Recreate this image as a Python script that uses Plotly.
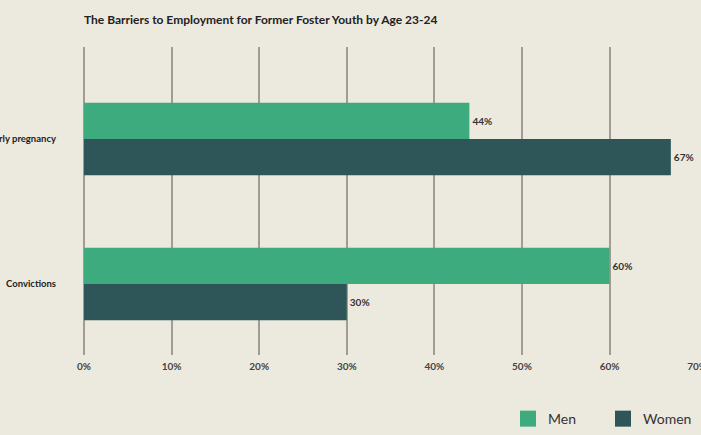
import plotly.graph_objects as go

categories = ["Early pregnancy", "Convictions"]
men = [44, 60]
women = [67, 30]
tick_vals = [0, 10, 20, 30, 40, 50, 60, 70]
tick_text = ["0%", "10%", "20%", "30%", "40%", "50%", "60%", "70%"]
title_text = "The Barriers to Employment for Former Foster Youth by Age 23-24"

MEN_C = "#3dab7e"
WOMEN_C = "#2e5659"
FONT = "Lato"

fig = go.Figure()
fig.add_trace(go.Bar(
    y=categories, x=men, name="Men", orientation="h", showlegend=False,
    marker=dict(color=MEN_C, line=dict(width=0)),
    text=[f"{v}%" for v in men], textposition="outside",
    textfont=dict(family=FONT, size=10, color="#333333", weight="bold"),
    cliponaxis=False,
))
fig.add_trace(go.Bar(
    y=categories, x=women, name="Women", orientation="h", showlegend=False,
    marker=dict(color=WOMEN_C, line=dict(width=0)),
    text=[f"{v}%" for v in women], textposition="outside",
    textfont=dict(family=FONT, size=10, color="#333333", weight="bold"),
    cliponaxis=False,
))
# legend entries (square keys)
for nm, col in [("Men", MEN_C), ("Women", WOMEN_C)]:
    fig.add_trace(go.Scatter(
        x=[None], y=[None], mode="markers", name=nm,
        marker=dict(symbol="square", size=16, color=col),
    ))

fig.update_layout(
    width=701, height=435,
    paper_bgcolor="#ece9df", plot_bgcolor="#ece9df",
    barmode="group", bargap=0.5, bargroupgap=0,
    margin=dict(l=84, r=3, t=47, b=80, autoexpand=False),
    title=dict(text=title_text, x=0, xref="paper", xanchor="left",
               y=0.954, yref="container", yanchor="middle",
               font=dict(family=FONT, size=12, color="#222222", weight="bold")),
    xaxis=dict(range=[0, 70.1], tickvals=tick_vals, ticktext=tick_text,
               showgrid=True, gridcolor="#a19d94", gridwidth=2,
               zeroline=True, zerolinecolor="#a19d94", zerolinewidth=2,
               showline=False, ticks="", ticklabelstandoff=4,
               ticklabeloverflow="allow", automargin=False,
               tickfont=dict(family=FONT, size=10, color="#444444", weight="bold")),
    yaxis=dict(type="category", categoryorder="array", categoryarray=categories,
               range=[1.49, -0.634], automargin=False, showgrid=False,
               zeroline=False, showline=False, ticks="", ticklabelstandoff=27,
               tickfont=dict(family=FONT, size=9.5, color="#222222", weight="bold")),
    legend=dict(orientation="h", x=1.0, xanchor="right", y=-0.208, yanchor="middle",
                bgcolor="rgba(0,0,0,0)", traceorder="normal",
                font=dict(family=FONT, size=14, color="#333333"),
                itemwidth=30, entrywidthmode="pixels", entrywidth=50),
)

fig.write_html("out.html", config={"displayModeBar": False},
               post_script="document.body.style.margin='0';")
